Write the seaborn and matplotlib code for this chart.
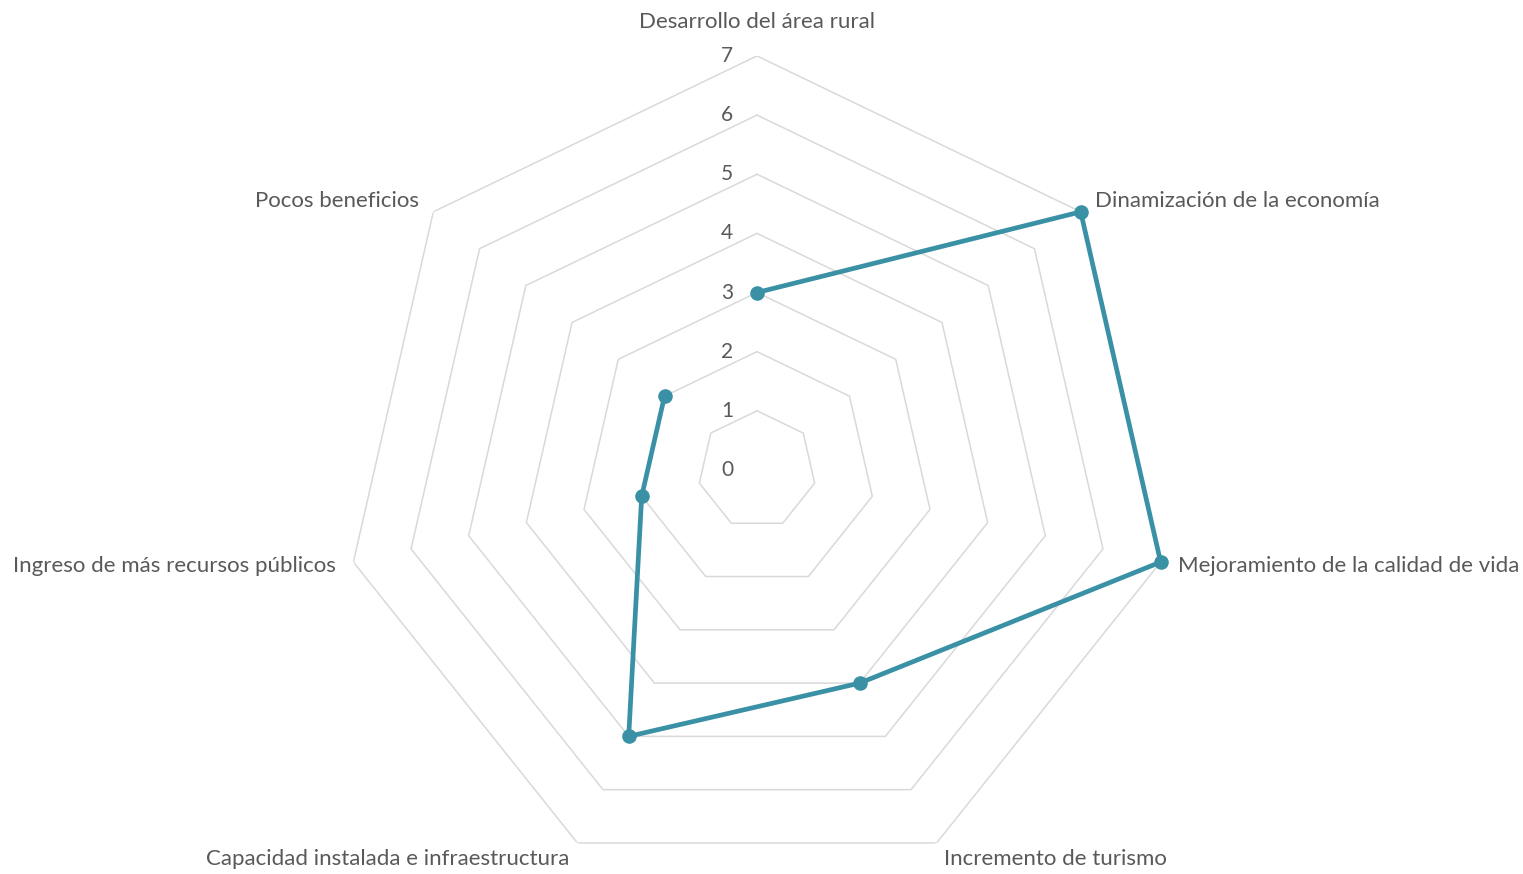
import numpy as np
import pandas as pd
import matplotlib
matplotlib.use("Agg")
import matplotlib.pyplot as plt
import matplotlib.transforms as mtransforms
import seaborn as sns

# ─── Data ────────────────────────────────────────────────────────────────────
categories = [
    "Desarrollo del área rural",
    "Dinamización de la economía",
    "Mejoramiento de la calidad de vida",
    "Incremento de turismo",
    "Capacidad instalada e infraestructura",
    "Ingreso de más recursos públicos",
    "Pocos beneficios",
]
values = [3, 7, 7, 4, 5, 2, 2]
rings = [1, 2, 3, 4, 5, 6, 7]
tick_labels = ["0", "1", "2", "3", "4", "5", "6", "7"]

# ─── Styling ─────────────────────────────────────────────────────────────────
sns.set_theme(style="white")
plt.rcParams["font.family"] = ["Lato", "DejaVu Sans"]

LINE_COLOR = "#3A91A5"
GRID_COLOR = "#D9D9D9"
TEXT_COLOR = "#595959"

n = len(categories)
angles = np.arange(n) * 2 * np.pi / n

fig = plt.figure(figsize=(15.23, 8.74), dpi=100)
ax = fig.add_axes([0.2252, -0.0114, 0.5437, 0.9474], projection="polar")
ax.set_theta_offset(np.pi / 2)
ax.set_theta_direction(-1)
ax.set_ylim(0, 7)
ax.grid(False)
ax.spines["polar"].set_visible(False)
ax.set_xticks([])
ax.set_yticks([])
ax.patch.set_alpha(0)

# polygon rings
closed = np.append(angles, angles[0])
for r in rings:
    ax.plot(closed, [r] * len(closed), color=GRID_COLOR, lw=1.1, zorder=1)

# data series
df = pd.DataFrame({
    "angle": np.append(angles, angles[0]),
    "value": values + values[:1],
})
sns.lineplot(data=df, x="angle", y="value", sort=False, ax=ax,
             color=LINE_COLOR, lw=3.4, marker="o", markersize=10.5,
             markeredgewidth=0, zorder=3, clip_on=False)
ax.set_xlabel("")
ax.set_ylabel("")
ax.set_ylim(0, 7)

# radial tick labels, shifted left of the top axis
tick_tr = mtransforms.offset_copy(ax.transData, fig=fig, x=-30, y=0, units="dots")
for i, lab in enumerate(tick_labels):
    ax.text(0, i, lab, fontsize=15, color=TEXT_COLOR, ha="center",
            va="center", transform=tick_tr)

# category labels
for ang, cat in zip(angles, categories):
    deg = np.degrees(ang)
    if deg < 1:
        ha, va, rr = "center", "bottom", 7.4
    elif deg < 179:
        ha, va, rr = "left", "center", 7.3
    else:
        ha, va, rr = "right", "center", 7.3
    ax.text(ang, rr, cat, fontsize=16, color=TEXT_COLOR, ha=ha, va=va)

plt.savefig("out.png", dpi=100)
plt.close()
